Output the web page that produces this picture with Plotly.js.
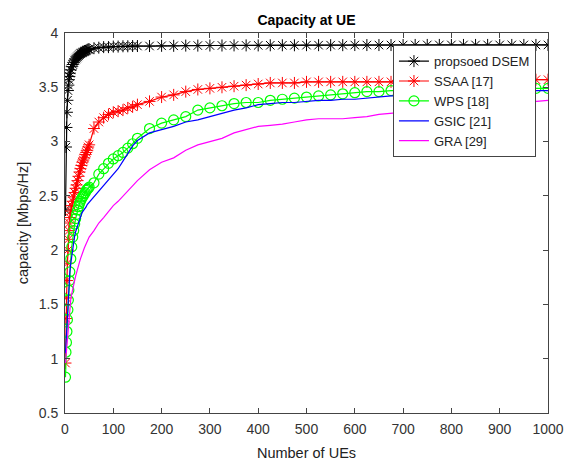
<!DOCTYPE html>
<html>
<head>
<meta charset="utf-8">
<script src="https://cdn.plot.ly/plotly-3.0.1.min.js"></script>
<style>html,body{margin:0;padding:0;background:#fff;}#chart{width:578px;height:464px;}</style>
</head>
<body>
<div id="chart"></div>
<script>
// Number of UEs (shared x positions)
const numUEs = [1,2,3,4,5,6,7,8,9,10,12,14,16,18,20,22,24,26,28,30,32,34,36,38,40,42,44,46,48,50,
  60,70,80,90,100,110,120,130,140,150,175,200,225,250,275,300,325,350,375,400,425,450,475,500,
  525,550,575,600,625,650,675,700,725,750,775,800,825,850,875,900,925,950,975,1000];

const dsem = [2.37,2.95,3.13,3.27,3.38,3.47,3.52,3.57,3.60,3.63,
  3.66,3.69,3.71,3.73,3.75,3.76,3.77,3.78,3.79,3.80,3.81,3.815,3.82,3.825,3.83,3.835,3.84,3.845,3.85,3.85,
  3.86,3.865,3.87,3.87,3.875,3.875,3.878,3.878,3.88,3.88,
  3.88,3.882,3.882,3.884,3.884,3.885,3.885,3.886,3.886,3.886,3.887,3.887,3.887,3.888,3.888,3.888,3.888,
  3.889,3.889,3.889,3.889,3.889,3.89,3.89,3.89,3.89,3.89,3.89,3.89,3.89,3.89,3.89,3.89,3.89];

const ssaa = [0.96,1.37,1.56,1.72,1.88,2.00,2.10,2.18,2.25,2.30,
  2.36,2.41,2.45,2.49,2.53,2.57,2.60,2.64,2.68,2.72,2.75,2.78,2.81,2.83,2.85,2.88,2.90,2.92,2.95,2.97,
  3.12,3.18,3.22,3.25,3.27,3.28,3.29,3.31,3.32,3.34,
  3.37,3.41,3.43,3.46,3.48,3.49,3.50,3.51,3.52,3.53,
  3.54,3.54,3.54,3.55,3.55,3.55,3.55,3.55,3.55,3.55,3.55,3.55,3.55,3.55,3.55,3.56,3.56,3.56,3.56,3.56,3.56,3.56,3.57,3.57];

const wps = [0.83,1.06,1.15,1.25,1.36,1.45,1.54,1.63,1.72,1.80,
  1.92,2.03,2.12,2.18,2.24,2.29,2.33,2.37,2.40,2.43,2.45,2.47,2.49,2.50,2.52,2.53,2.55,2.56,2.57,2.58,
  2.62,2.70,2.75,2.80,2.84,2.87,2.90,2.94,2.98,3.03,
  3.12,3.17,3.20,3.23,3.29,3.31,3.33,3.35,3.36,3.36,
  3.38,3.39,3.40,3.41,3.42,3.43,3.44,3.45,3.46,3.46,3.47,3.47,3.47,3.48,3.48,3.48,3.48,3.49,3.49,3.49,3.49,3.50,3.49,3.49];

const gsic = [1.05,1.15,1.25,1.35,1.45,1.54,1.60,1.68,1.74,1.80,
  1.88,1.95,2.02,2.08,2.13,2.17,2.20,2.23,2.26,2.29,2.31,2.33,2.35,2.36,2.37,2.39,2.40,2.42,2.43,2.44,
  2.49,2.54,2.60,2.64,2.70,2.75,2.82,2.89,2.96,3.01,
  3.08,3.11,3.14,3.18,3.20,3.23,3.26,3.29,3.31,3.34,
  3.35,3.36,3.36,3.37,3.38,3.38,3.39,3.39,3.40,3.41,3.42,3.42,3.43,3.43,3.44,3.44,3.45,3.45,3.45,3.46,3.46,3.46,3.47,3.47];

const gra = [0.96,1.02,1.08,1.13,1.18,1.23,1.30,1.37,1.43,1.48,
  1.55,1.60,1.65,1.69,1.72,1.76,1.80,1.83,1.86,1.89,1.92,1.95,1.98,2.00,2.02,2.04,2.06,2.08,2.10,2.12,
  2.18,2.25,2.30,2.36,2.41,2.45,2.50,2.55,2.60,2.64,
  2.74,2.81,2.85,2.92,2.97,3.00,3.03,3.08,3.11,3.14,
  3.15,3.16,3.18,3.20,3.21,3.21,3.21,3.22,3.23,3.25,
  3.26,3.27,3.28,3.29,3.30,3.31,3.31,3.32,3.33,3.34,3.35,3.36,3.37,3.38];

const seriesNames = ['propsoed DSEM','SSAA [17]','WPS [18]','GSIC [21]','GRA [29]'];
const xTicks = [0,100,200,300,400,500,600,700,800,900,1000];
const yTicks = [0.5,1,1.5,2,2.5,3,3.5,4];

const font = 'Liberation Sans, Arial, Helvetica, sans-serif';

const traces = [
  {x:numUEs, y:dsem, name:seriesNames[0], mode:'lines+markers',
   line:{color:'#000000', width:1.2},
   marker:{symbol:'asterisk-open', size:10, color:'#000000', line:{color:'#000000', width:1}}},
  {x:numUEs, y:ssaa, name:seriesNames[1], mode:'lines+markers',
   line:{color:'#ff0000', width:1.2},
   marker:{symbol:'asterisk-open', size:10, color:'#ff0000', line:{color:'#ff0000', width:1}}},
  {x:numUEs, y:wps, name:seriesNames[2], mode:'lines+markers',
   line:{color:'#00ff00', width:1.2},
   marker:{symbol:'circle-open', size:10, color:'#00ff00', line:{color:'#00ff00', width:1.2}}},
  {x:numUEs, y:gsic, name:seriesNames[3], mode:'lines',
   line:{color:'#0000ff', width:1.2}},
  {x:numUEs, y:gra, name:seriesNames[4], mode:'lines',
   line:{color:'#ff00ff', width:1.2}}
];

const axisCommon = {
  showline:true, linecolor:'#444', linewidth:1, mirror:'ticks',
  ticks:'inside', ticklen:5, tickcolor:'#444', showgrid:false, zeroline:false,
  tickfont:{family:font, size:14, color:'#333'}, ticklabelstandoff:3
};

const layout = {
  width:578, height:464,
  margin:{l:65, r:30, t:33, b:51},
  paper_bgcolor:'#ffffff', plot_bgcolor:'#ffffff',
  font:{family:font, color:'#222'},
  title:{text:'<b>Capacity at UE</b>', font:{family:font, size:14, color:'#000'},
         xref:'paper', x:0.5, xanchor:'center', yref:'container', y:0.957, yanchor:'middle'},
  xaxis:Object.assign({}, axisCommon, {range:[0,1000], tickvals:xTicks,
         title:{text:'Number of UEs', font:{family:font, size:14.5, color:'#222'}, standoff:12}}),
  yaxis:Object.assign({}, axisCommon, {range:[0.5,4], tickvals:yTicks,
         title:{text:'capacity [Mbps/Hz]', font:{family:font, size:14.5, color:'#222'}, standoff:6}}),
  legend:{x:0.679, y:0.968, xanchor:'left', yanchor:'top', bgcolor:'#ffffff',
          bordercolor:'#444', borderwidth:1, font:{family:font, size:13, color:'#222'},
          tracegroupgap:0, itemwidth:30},
  showlegend:true
};

Plotly.newPlot('chart', traces, layout, {displayModeBar:false, staticPlot:true});
</script>
</body>
</html>
